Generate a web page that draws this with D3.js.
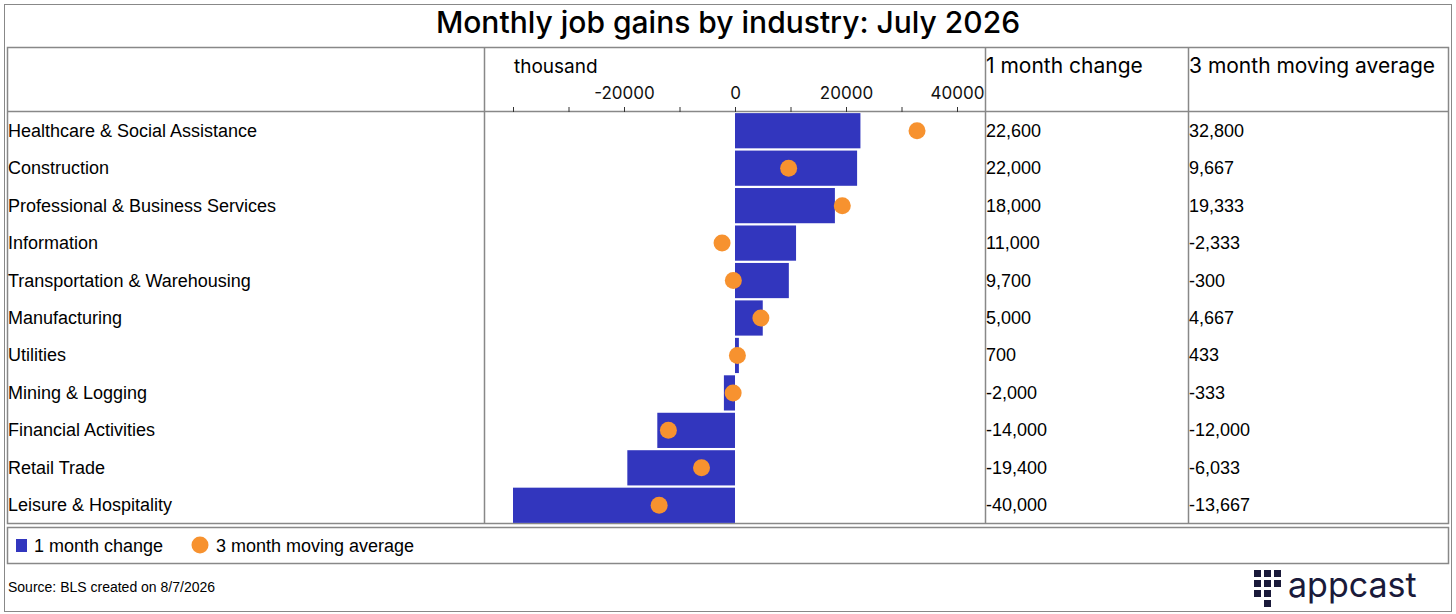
<!DOCTYPE html>
<html><head><meta charset="utf-8">
<script src="https://cdn.jsdelivr.net/npm/d3@7"></script>
<style>body{margin:0;background:#fff}svg{display:block;font-family:"Liberation Sans",Arial,sans-serif}</style>
</head><body><svg id="c" width="1456" height="614"></svg>
<script>
const categories=["Healthcare & Social Assistance","Construction","Professional & Business Services","Information","Transportation & Warehousing","Manufacturing","Utilities","Mining & Logging","Financial Activities","Retail Trade","Leisure & Hospitality"];
const monthChange=[22600,22000,18000,11000,9700,5000,700,-2000,-14000,-19400,-40000];
const movingAvg=[32800,9667,19333,-2333,-300,4667,433,-333,-12000,-6033,-13667];
const tickValues=[-40000,-30000,-20000,-10000,0,10000,20000,30000,40000];
const labeledTicks=[-20000,0,20000,40000];

const svg=d3.select("#c");
const blue="#3236BE",orange="#F7922F",grid="#888";
const fmt=d3.format(",");
svg.append("rect").attr("x",4.5).attr("y",4.5).attr("width",1447).attr("height",607).attr("fill","none").attr("stroke",grid);
svg.append("text").attr("x",728).attr("y",33).attr("text-anchor","middle").attr("font-size",30).attr("font-family","Inter, 'Noto Sans', sans-serif").attr("font-weight",500).text("Monthly job gains by industry: July 2026");

const topY=47,headB=111,botY=523,cols=[7,484,985,1188,1449];
svg.append("rect").attr("x",7.5).attr("y",topY+.5).attr("width",1441).attr("height",botY-topY).attr("fill","none").attr("stroke",grid).attr("stroke-width",1.5);
svg.append("line").attr("x1",7).attr("x2",1449).attr("y1",headB+.5).attr("y2",headB+.5).attr("stroke",grid).attr("stroke-width",1.5);
cols.slice(1,4).forEach(c=>svg.append("line").attr("x1",c+.5).attr("x2",c+.5).attr("y1",topY).attr("y2",botY).attr("stroke",grid).attr("stroke-width",1.5));

const x=d3.scaleLinear().domain([-40000,40000]).range([513,957]);
const y=d3.scaleBand().domain(categories).range([112,524]).paddingInner(0.06).paddingOuter(0.03);

const ax=svg.append("g").attr("transform","translate(0,112)").call(d3.axisTop(x).tickValues(tickValues).tickSize(5).tickFormat(d=>labeledTicks.includes(d)?d:""));
ax.select(".domain").remove();
ax.selectAll("line").attr("stroke","#333");
ax.selectAll("text").attr("font-size",17).attr("fill","#111").attr("font-family","Inter, 'Noto Sans', sans-serif").attr("dy","-0.3em");
svg.append("text").attr("x",514).attr("y",73).attr("font-size",19).attr("font-family","Inter, 'Noto Sans', sans-serif").text("thousand");
svg.append("text").attr("x",986).attr("y",73).attr("font-size",21).attr("font-family","Inter, 'Noto Sans', sans-serif").text("1 month change");
svg.append("text").attr("x",1189).attr("y",73).attr("font-size",21).attr("font-family","Inter, 'Noto Sans', sans-serif").text("3 month moving average");

const rows=svg.append("g").selectAll("g").data(categories).join("g");
rows.append("rect").attr("x",(d,i)=>x(Math.min(0,monthChange[i]))).attr("y",d=>y(d)).attr("width",(d,i)=>Math.abs(x(monthChange[i])-x(0))).attr("height",y.bandwidth()).attr("fill",blue);
rows.append("circle").attr("cx",(d,i)=>x(movingAvg[i])).attr("cy",d=>y(d)+y.bandwidth()/2).attr("r",8.5).attr("fill",orange);
const ty=d=>y(d)+y.bandwidth()/2+6;
rows.append("text").attr("x",8).attr("y",ty).attr("font-size",18).text(d=>d);
rows.append("text").attr("x",986).attr("y",ty).attr("font-size",18).text((d,i)=>fmt(monthChange[i]).replace("−","-"));
rows.append("text").attr("x",1189).attr("y",ty).attr("font-size",18).text((d,i)=>fmt(movingAvg[i]).replace("−","-"));

svg.append("rect").attr("x",7.5).attr("y",527.5).attr("width",1441).attr("height",36).attr("fill","none").attr("stroke",grid).attr("stroke-width",1.5);
svg.append("rect").attr("x",16).attr("y",539).attr("width",11).attr("height",13).attr("fill",blue);
svg.append("text").attr("x",34).attr("y",552).attr("font-size",18).text("1 month change");
svg.append("circle").attr("cx",200).attr("cy",545).attr("r",8.5).attr("fill",orange);
svg.append("text").attr("x",216).attr("y",552).attr("font-size",18).text("3 month moving average");
svg.append("text").attr("x",8).attr("y",592).attr("font-size",14).text("Source: BLS created on 8/7/2026");

const lg=svg.append("g").attr("fill","#1a1a3a");
[[1254,570],[1254,580],[1264,570],[1264,580],[1264,590],[1274,570],[1274,580],[1254,590],[1264,600]].forEach(([a,b])=>lg.append("rect").attr("x",a).attr("y",b).attr("width",7).attr("height",7));
svg.append("text").attr("x",1288).attr("y",597).attr("font-size",34).attr("fill","#1a1a3a").attr("font-family","Inter, 'Noto Sans', sans-serif").text("appcast");
</script></body></html>
